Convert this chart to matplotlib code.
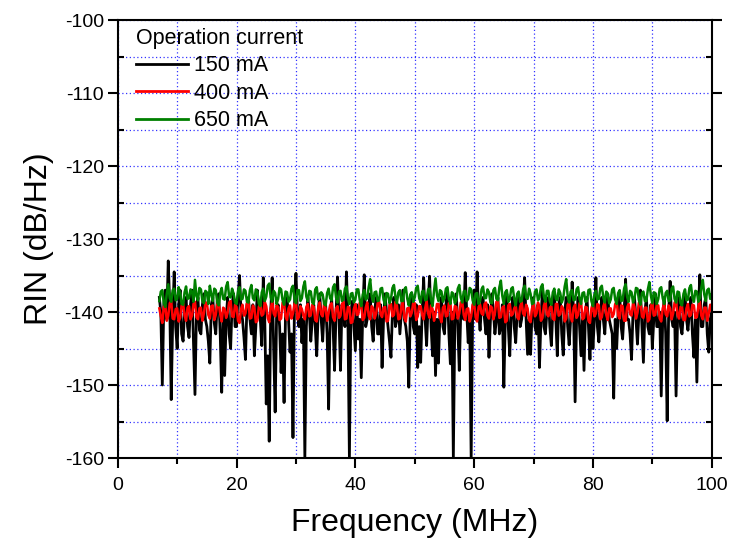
import numpy as np
import matplotlib.pyplot as plt
from matplotlib.ticker import MultipleLocator

plt.rcParams['font.family'] = ['Liberation Sans', 'DejaVu Sans']
plt.rcParams['axes.unicode_minus'] = False

# frequency axis, MHz (0.25 MHz steps, 7 .. 100)
freq = np.arange(7.0, 100.001, 0.25)

rin_150 = [
    -138, -140, -150, -139, -137, -141, -133, -139, -152, -141, -134.5, -142, -145, -139, -137, -143, -144, -140, -138, -142,
    -143.5, -139, -137, -144, -151.3, -140, -138, -142.5, -143, -139, -137.5, -141, -142, -144, -147, -139, -138, -141.5, -143, -138.5,
    -137.5, -143, -151, -140, -148.7, -141, -138, -143, -145, -139, -137.5, -142, -142, -138, -135, -140, -141, -143.5, -146.5, -139,
    -138, -141, -143, -139, -146, -142, -137, -140, -141, -144.6, -135.3, -141, -152.6, -146, -157.7, -140, -135.3, -145, -153.7, -140,
    -139, -142, -148.3, -143, -152.4, -140, -138, -141, -145.5, -143, -157.2, -139, -134.7, -140, -142, -139, -144.2, -141, -160, -142,
    -138, -140, -144, -141, -139, -142, -146, -140, -137.5, -141, -144, -139.5, -139, -143, -153.3, -141, -138, -142, -148, -140,
    -135.2, -141, -148, -139, -140, -142, -134.5, -141, -160, -140, -138.5, -142, -145.3, -139, -143.7, -141, -149, -140, -134.9, -142,
    -141, -139, -137.5, -142, -144, -140, -138, -143, -143, -139, -147.6, -141, -137.5, -140, -142, -144, -146.2, -140, -138, -142,
    -141, -139, -143, -140, -137, -141, -142, -144, -150.3, -140, -137.5, -142, -143, -139, -147.6, -142, -146.9, -140, -135.3, -141,
    -144.6, -139, -135.1, -142, -146, -140, -148.7, -141, -147, -140, -138, -142, -143, -139, -137, -143, -147.1, -140, -160, -141,
    -137.5, -142, -148, -140, -139, -141, -134.6, -140, -144.2, -141, -160, -140, -137, -141, -134.5, -140, -142.5, -139, -138, -141,
    -143, -139, -146.2, -141, -137.5, -140, -143, -141, -138, -143, -142, -139, -150.3, -141, -137.5, -142, -146, -140, -138, -142,
    -144.2, -140, -137.5, -142, -141, -139, -135.3, -141, -145.8, -141, -145.8, -140, -138, -142, -143, -139, -147.6, -141, -137, -142,
    -143, -140, -138, -142, -144.6, -140, -137.5, -141, -146, -139, -138, -143, -145.9, -140, -138, -142, -144.5, -141, -135.9, -140,
    -152.3, -141, -138, -142, -146, -141, -148, -140, -138, -142, -146.5, -140, -145, -141, -135.3, -142, -144.1, -140, -138, -141,
    -143, -139, -137.5, -141, -142, -143, -151.8, -141, -145, -140, -137.5, -142, -143.7, -140, -135.5, -141, -141, -143, -146.5, -140,
    -138, -141, -144.4, -140, -137, -142, -146.9, -140, -138, -142, -143, -139, -145, -141, -137.5, -142, -142, -140, -151.5, -141,
    -138, -143, -154.9, -140, -135.8, -141, -142, -140, -151.5, -141, -138, -142, -143, -140, -137.5, -141, -142.5, -140, -138, -143,
    -146.2, -141, -149.6, -140, -134.9, -142, -142, -139, -138, -143, -145.5, -141, -140,
]

rin_400 = [
    -139.5, -140.6, -141.5, -139.3, -139, -141.2, -140.5, -138.8, -138.5, -140.9, -141, -139.6, -139.5, -141.3, -140.8, -139.1, -138.8, -140.5, -141.2, -139.4,
    -139.2, -141, -140.5, -138.9, -138.6, -140.7, -141, -139.5, -139.4, -141.2, -140.2, -138.8, -138.7, -140.4, -140.9, -139.2, -139.1, -141.1, -140.4, -138.9,
    -138.9, -140.3, -141.3, -139.4, -139.6, -140.8, -140.1, -138.7, -138.5, -140.6, -140.7, -139, -139.3, -141.2, -141.5, -139.6, -139, -140.5, -140.2, -138.8,
    -138.7, -140.9, -140.8, -139.1, -139.5, -141.4, -141.2, -139.3, -138.9, -140.5, -140.3, -138.6, -139.2, -140.8, -141.4, -139.5, -138.6, -140.2, -140.6, -139,
    -139.4, -141.1, -140.9, -138.7, -138.8, -140.6, -141.1, -139.5, -139.1, -140.9, -140.2, -138.9, -138.5, -141, -140.7, -139.2, -139.6, -140.5, -141, -139.3,
    -138.9, -140.6, -140.4, -139, -139.3, -141.1, -141.3, -139.4, -138.7, -140.3, -140.6, -138.8, -139.5, -141.2, -140.1, -139.1, -138.8, -140.7, -141.2, -139.5,
    -139.2, -140.8, -140.5, -138.9, -138.6, -141, -140.9, -139.3, -139.4, -141.5, -141.4, -139.6, -138.9, -140.4, -140.3, -138.7, -139.1, -141.1, -140.8, -139.4,
    -138.7, -140.5, -141, -139.2, -139.5, -140.9, -140.2, -138.8, -138.5, -140.3, -140.7, -139.4, -139.3, -141.3, -141.2, -139, -138.9, -140.6, -140.4, -138.6,
    -139.1, -141, -140.9, -139.3, -138.6, -140.8, -141.3, -139.5, -139.4, -140.6, -140.1, -138.7, -138.8, -141.1, -140.6, -139.2, -139.2, -140.4, -141, -139.5,
    -138.5, -140.2, -140.8, -139.1, -139.6, -141.2, -140.3, -138.9, -138.9, -140.7, -141.4, -139.4, -139.1, -140.6, -140.5, -138.8, -138.7, -141, -140.9, -139.2,
    -139.3, -140.9, -140.2, -138.7, -138.6, -140.4, -141.1, -139.6, -139.5, -141.3, -140.6, -139, -138.8, -140.7, -141.3, -139.3, -139, -140.2, -140.4, -138.9,
    -138.7, -140.5, -140.9, -139.2, -139.4, -141, -140.1, -138.6, -138.5, -140.8, -140.7, -139.4, -139.2, -141.4, -141.2, -139.1, -138.9, -140.5, -140.3, -139.5,
    -139.1, -140.7, -141, -139.3, -138.6, -140.2, -140.5, -139, -139.5, -141.1, -141.4, -139.5, -138.8, -140.6, -140.2, -138.7, -139.3, -141.2, -140.8, -139.1,
    -138.5, -140.3, -140.6, -139.4, -139.2, -140.9, -141.1, -138.9, -138.9, -140.5, -140.3, -139.2, -139.6, -141.3, -140.9, -139, -138.7, -140.7, -141.3, -139.4,
    -139, -140.8, -140.4, -138.8, -138.6, -141, -140.8, -139.3, -139.4, -141.2, -141.5, -139.5, -138.8, -140.6, -140.2, -138.9, -139.1, -141, -140.7, -139.2,
    -138.7, -140.4, -141.1, -139.5, -139.5, -140.7, -140.3, -138.9, -138.6, -140.5, -140.9, -139.1, -139.2, -141.2, -141.2, -139.4, -138.9, -140.3, -140.5, -138.8,
    -139.3, -140.9, -140.1, -138.7, -138.5, -140.6, -140.8, -139.4, -139.4, -141.3, -141, -139.2, -138.7, -140.5, -140.4, -139, -139.1, -140.9, -141.3, -139.5,
    -138.8, -140.3, -140.6, -139.1, -139.5, -141, -140.2, -138.7, -138.6, -140.4, -140.9, -139.3, -139.2, -141.1, -141.1, -139.5, -138.9, -140.6, -140.4, -139,
    -139.1, -140.8, -140.7, -139.2, -138.6, -140.5, -141, -139.4, -139.4, -141.2, -140.2, -139, -139.8,
]

rin_650 = [
    -138.5, -137.2, -137, -138.8, -139.3, -137.5, -136.2, -138.1, -138.6, -137, -136.8, -138.4, -138.2, -136.6, -137.4, -138.9, -139, -137.3, -136.5, -138.2,
    -138.1, -136.9, -137.2, -138.6, -135.6, -137.8, -138.4, -136.7, -136.9, -138.5, -138.8, -137.1, -137.3, -138.9, -136.4, -137.6, -138.5, -136.8, -137, -138.7,
    -139.1, -137.4, -136.7, -138.2, -138.3, -136.5, -135.9, -137.9, -138, -136.8, -137.5, -138.7, -138.9, -137.1, -136.6, -138.3, -138.2, -136.9, -137.1, -138.6,
    -138.7, -137, -136.3, -138.1, -138.4, -136.9, -137.2, -138.8, -139.2, -137.3, -136.8, -138.5, -137.9, -136.4, -136.1, -138, -138.6, -137.1, -137.4, -138.9,
    -138.2, -136.7, -136.9, -138.4, -139, -137.2, -137.3, -138.6, -138.3, -136.8, -136.4, -138.2, -138.8, -137, -137, -138.5, -138.1, -136.5, -135.8, -137.9,
    -138.5, -137.1, -137.2, -138.7, -138.9, -136.9, -136.6, -138.3, -138, -137.3, -137.6, -138.9, -139.1, -137.4, -136.8, -138.1, -138.4, -136.6, -136.2, -138,
    -138.7, -137.2, -137.1, -138.5, -138.2, -136.8, -136.5, -138.1, -138.9, -137.5, -137.4, -138.7, -138.3, -136.9, -136.9, -138.4, -139.2, -137.6, -137, -138.3,
    -138.1, -136.6, -135.5, -137.8, -138.6, -137.3, -137.2, -138.5, -138.4, -136.8, -136.7, -138.3, -139, -137.4, -137.5, -138.8, -138.2, -136.7, -136.3, -137.9,
    -138.8, -137.3, -137, -138.5, -138.5, -136.9, -136.6, -138.2, -139.1, -137.6, -137.3, -138.6, -138, -136.7, -136.4, -138.1, -138.7, -137.2, -137.1, -138.4,
    -138.3, -136.9, -136.8, -138.3, -139.2, -137.1, -135.4, -137.7, -138.5, -137, -137.2, -138.6, -138.1, -136.8, -136.6, -138.2, -138.9, -137.3, -137.5, -138.8,
    -138.4, -136.8, -136.3, -138, -138.7, -137.2, -137.1, -138.5, -138.2, -136.7, -136.9, -138.4, -139, -137.5, -137.4, -138.9, -138.5, -136.9, -136.5, -138.1,
    -138.1, -136.9, -137.3, -138.7, -138.8, -137, -136.7, -138.2, -138.4, -136.6, -135.7, -137.8, -138.9, -137.3, -137, -138.6, -138.3, -136.8, -136.6, -138.2,
    -139.1, -137.5, -137.2, -138.6, -138.5, -136.9, -136.4, -138, -138.2, -136.8, -137.5, -138.9, -138.8, -137.2, -136.9, -138.4, -138, -136.6, -136.2, -137.9,
    -138.6, -137.1, -137.1, -138.5, -139, -137.3, -136.8, -138.2, -138.4, -136.9, -137.4, -138.7, -138.1, -136.5, -135.5, -137.8, -138.7, -137.2, -137, -138.4,
    -138.3, -136.9, -136.6, -138.2, -138.9, -137.4, -137.3, -138.6, -138.5, -137, -136.9, -138.5, -139.2, -137.6, -137.1, -138.3, -138.2, -136.7, -136.4, -138,
    -138.7, -137.2, -137.5, -138.8, -138.3, -136.9, -136.7, -138.3, -138.9, -137.4, -137, -138.5, -138.4, -136.8, -136.2, -137.9, -138.6, -137.1, -137.3, -138.7,
    -138.1, -136.7, -136.8, -138.4, -139, -137.4, -137.2, -138.5, -138.5, -136.9, -135.9, -137.7, -138.8, -137.3, -137.4, -138.9, -138.2, -136.8, -136.6, -138.1,
    -138.9, -137.4, -137.1, -138.5, -138.4, -136.8, -136.5, -138.2, -138.7, -137.2, -137.3, -138.8, -139.1, -137.5, -136.9, -138.4, -138.3, -136.7, -136.3, -138,
    -138.6, -137.1, -137.2, -138.6, -138.1, -136.7, -135.6, -137.6, -138.5, -137, -136.8, -138.2, -137.6,
]

labels = ['150 mA', '400 mA', '650 mA']
colors = ['black', '#ff0000', '#008000']
widths = [2.0, 1.8, 1.8]

fig = plt.figure(figsize=(7.36, 5.45), dpi=100)
ax = fig.add_axes([0.160, 0.1596, 0.807, 0.8037])

for series, lab, col, w in zip([rin_150, rin_400, rin_650], labels, colors, widths):
    ax.plot(freq, series, color=col, lw=w, label=lab)

ax.set_xlim(0, 100)
ax.set_ylim(-160, -100)
ax.xaxis.set_major_locator(MultipleLocator(20))
ax.xaxis.set_minor_locator(MultipleLocator(10))
ax.yaxis.set_major_locator(MultipleLocator(10))
ax.yaxis.set_minor_locator(MultipleLocator(5))

ax.grid(which='both', color='#0000ff', ls=(0, (1, 2)), lw=0.9, alpha=0.8)
ax.set_axisbelow(True)

for s in ax.spines.values():
    s.set_linewidth(1.5)

ax.tick_params(axis='x', which='major', direction='out', length=7, width=1.5,
               labelsize=14, pad=7)
ax.tick_params(axis='x', which='minor', direction='out', length=4, width=1.5)
ax.tick_params(axis='y', which='major', direction='out', length=7, width=1.5,
               labelsize=14, pad=3)
ax.tick_params(axis='y', which='minor', direction='in', length=4, width=1.5,
               right=True)
ax.tick_params(axis='y', which='major', right=True)

ax.set_xlabel('Frequency (MHz)', fontsize=23, labelpad=10)
ax.set_ylabel('RIN (dB/Hz)', fontsize=23, labelpad=8)

leg = ax.legend(title='Operation current', loc='upper left',
                bbox_to_anchor=(0.031, 0.982), frameon=False, fontsize=15.5,
                title_fontsize=15.5, alignment='left', handlelength=2.4,
                handletextpad=0.3, labelspacing=0.3, borderpad=0,
                borderaxespad=0)
for line in leg.get_lines():
    line.set_linewidth(2)

fig.savefig('out.png', dpi=100)
